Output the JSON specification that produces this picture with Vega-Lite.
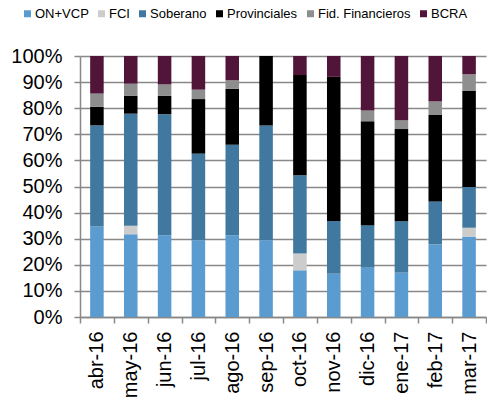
{
  "$schema": "https://vega.github.io/schema/vega-lite/v6.json",
  "width": 406,
  "height": 261,
  "autosize": "none",
  "padding": {"left": 80, "top": 56, "right": 1, "bottom": 83},
  "background": "white",
  "config": {
    "font": "Liberation Sans",
    "view": {"stroke": null},
    "axis": {"labelFont": "Liberation Sans", "labelColor": "#000000"}
  },
  "data": {
    "values": [
      {"mes": "abr-16", "serie": "ON+VCP", "k": 1, "v": 34.7},
      {"mes": "abr-16", "serie": "FCI", "k": 2, "v": 0},
      {"mes": "abr-16", "serie": "Soberano", "k": 3, "v": 38.7},
      {"mes": "abr-16", "serie": "Provinciales", "k": 4, "v": 7.1},
      {"mes": "abr-16", "serie": "Fid. Financieros", "k": 5, "v": 5.1},
      {"mes": "abr-16", "serie": "BCRA", "k": 6, "v": 14.4},
      {"mes": "may-16", "serie": "ON+VCP", "k": 1, "v": 31.7},
      {"mes": "may-16", "serie": "FCI", "k": 2, "v": 3.3},
      {"mes": "may-16", "serie": "Soberano", "k": 3, "v": 42.9},
      {"mes": "may-16", "serie": "Provinciales", "k": 4, "v": 6.8},
      {"mes": "may-16", "serie": "Fid. Financieros", "k": 5, "v": 4.7},
      {"mes": "may-16", "serie": "BCRA", "k": 6, "v": 10.6},
      {"mes": "jun-16", "serie": "ON+VCP", "k": 1, "v": 31.3},
      {"mes": "jun-16", "serie": "FCI", "k": 2, "v": 0},
      {"mes": "jun-16", "serie": "Soberano", "k": 3, "v": 46.4},
      {"mes": "jun-16", "serie": "Provinciales", "k": 4, "v": 7.0},
      {"mes": "jun-16", "serie": "Fid. Financieros", "k": 5, "v": 4.4},
      {"mes": "jun-16", "serie": "BCRA", "k": 6, "v": 10.9},
      {"mes": "jul-16", "serie": "ON+VCP", "k": 1, "v": 29.4},
      {"mes": "jul-16", "serie": "FCI", "k": 2, "v": 0},
      {"mes": "jul-16", "serie": "Soberano", "k": 3, "v": 33.2},
      {"mes": "jul-16", "serie": "Provinciales", "k": 4, "v": 20.9},
      {"mes": "jul-16", "serie": "Fid. Financieros", "k": 5, "v": 3.6},
      {"mes": "jul-16", "serie": "BCRA", "k": 6, "v": 12.9},
      {"mes": "ago-16", "serie": "ON+VCP", "k": 1, "v": 31.3},
      {"mes": "ago-16", "serie": "FCI", "k": 2, "v": 0},
      {"mes": "ago-16", "serie": "Soberano", "k": 3, "v": 34.7},
      {"mes": "ago-16", "serie": "Provinciales", "k": 4, "v": 21.4},
      {"mes": "ago-16", "serie": "Fid. Financieros", "k": 5, "v": 3.3},
      {"mes": "ago-16", "serie": "BCRA", "k": 6, "v": 9.3},
      {"mes": "sep-16", "serie": "ON+VCP", "k": 1, "v": 29.4},
      {"mes": "sep-16", "serie": "FCI", "k": 2, "v": 0},
      {"mes": "sep-16", "serie": "Soberano", "k": 3, "v": 44.0},
      {"mes": "sep-16", "serie": "Provinciales", "k": 4, "v": 26.6},
      {"mes": "sep-16", "serie": "Fid. Financieros", "k": 5, "v": 0},
      {"mes": "sep-16", "serie": "BCRA", "k": 6, "v": 0},
      {"mes": "oct-16", "serie": "ON+VCP", "k": 1, "v": 17.9},
      {"mes": "oct-16", "serie": "FCI", "k": 2, "v": 6.4},
      {"mes": "oct-16", "serie": "Soberano", "k": 3, "v": 30.0},
      {"mes": "oct-16", "serie": "Provinciales", "k": 4, "v": 38.4},
      {"mes": "oct-16", "serie": "Fid. Financieros", "k": 5, "v": 0},
      {"mes": "oct-16", "serie": "BCRA", "k": 6, "v": 7.3},
      {"mes": "nov-16", "serie": "ON+VCP", "k": 1, "v": 16.6},
      {"mes": "nov-16", "serie": "FCI", "k": 2, "v": 0},
      {"mes": "nov-16", "serie": "Soberano", "k": 3, "v": 20.2},
      {"mes": "nov-16", "serie": "Provinciales", "k": 4, "v": 55.2},
      {"mes": "nov-16", "serie": "Fid. Financieros", "k": 5, "v": 0},
      {"mes": "nov-16", "serie": "BCRA", "k": 6, "v": 8.0},
      {"mes": "dic-16", "serie": "ON+VCP", "k": 1, "v": 18.9},
      {"mes": "dic-16", "serie": "FCI", "k": 2, "v": 0},
      {"mes": "dic-16", "serie": "Soberano", "k": 3, "v": 16.3},
      {"mes": "dic-16", "serie": "Provinciales", "k": 4, "v": 39.8},
      {"mes": "dic-16", "serie": "Fid. Financieros", "k": 5, "v": 4.1},
      {"mes": "dic-16", "serie": "BCRA", "k": 6, "v": 20.9},
      {"mes": "ene-17", "serie": "ON+VCP", "k": 1, "v": 17.0},
      {"mes": "ene-17", "serie": "FCI", "k": 2, "v": 0},
      {"mes": "ene-17", "serie": "Soberano", "k": 3, "v": 19.7},
      {"mes": "ene-17", "serie": "Provinciales", "k": 4, "v": 35.3},
      {"mes": "ene-17", "serie": "Fid. Financieros", "k": 5, "v": 3.4},
      {"mes": "ene-17", "serie": "BCRA", "k": 6, "v": 24.6},
      {"mes": "feb-17", "serie": "ON+VCP", "k": 1, "v": 27.8},
      {"mes": "feb-17", "serie": "FCI", "k": 2, "v": 0},
      {"mes": "feb-17", "serie": "Soberano", "k": 3, "v": 16.5},
      {"mes": "feb-17", "serie": "Provinciales", "k": 4, "v": 33.1},
      {"mes": "feb-17", "serie": "Fid. Financieros", "k": 5, "v": 5.2},
      {"mes": "feb-17", "serie": "BCRA", "k": 6, "v": 17.4},
      {"mes": "mar-17", "serie": "ON+VCP", "k": 1, "v": 30.7},
      {"mes": "mar-17", "serie": "FCI", "k": 2, "v": 3.5},
      {"mes": "mar-17", "serie": "Soberano", "k": 3, "v": 15.6},
      {"mes": "mar-17", "serie": "Provinciales", "k": 4, "v": 36.8},
      {"mes": "mar-17", "serie": "Fid. Financieros", "k": 5, "v": 6.4},
      {"mes": "mar-17", "serie": "BCRA", "k": 6, "v": 7.0}
    ]
  },
  "mark": {"type": "bar", "width": {"band": 0.4}},
  "encoding": {
    "x": {
      "field": "mes",
      "type": "nominal",
      "sort": null,
      "scale": {"paddingInner": 0, "paddingOuter": 0},
      "axis": {
        "title": null,
        "tickBand": "extent",
        "labelAngle": -90,
        "labelAlign": "right",
        "labelBaseline": "middle",
        "labelFontSize": 20,
        "labelPadding": 8,
        "tickSize": 6,
        "tickColor": "#888888",
        "tickWidth": 1.5,
        "domainColor": "#888888",
        "domainWidth": 1.5,
        "grid": false
      }
    },
    "y": {
      "field": "v",
      "type": "quantitative",
      "stack": "zero",
      "scale": {"domain": [0, 100], "nice": false},
      "axis": {
        "title": null,
        "values": [0, 10, 20, 30, 40, 50, 60, 70, 80, 90, 100],
        "labelExpr": "datum.value + '%'",
        "labelFontSize": 20,
        "labelPadding": 12,
        "tickSize": 6,
        "tickColor": "#888888",
        "tickWidth": 1.5,
        "domainColor": "#888888",
        "domainWidth": 1.5,
        "grid": true,
        "gridColor": "#888888",
        "gridWidth": 1.5
      }
    },
    "order": {"field": "k", "type": "quantitative"},
    "color": {
      "field": "serie",
      "type": "nominal",
      "scale": {
        "domain": ["ON+VCP", "FCI", "Soberano", "Provinciales", "Fid. Financieros", "BCRA"],
        "range": ["#5A9BD0", "#CCCCCC", "#41789F", "#000000", "#8E8E8E", "#52153A"]
      },
      "legend": {
        "title": null,
        "orient": "none",
        "legendX": -59,
        "legendY": -49,
        "direction": "horizontal",
        "columns": 6,
        "padding": 0,
        "symbolType": "square",
        "symbolSize": 49,
        "symbolStrokeWidth": 0,
        "labelOffset": 1,
        "columnPadding": 6,
        "labelFontSize": 13,
        "labelFont": "Liberation Sans",
        "labelColor": "#000000"
      }
    }
  }
}
